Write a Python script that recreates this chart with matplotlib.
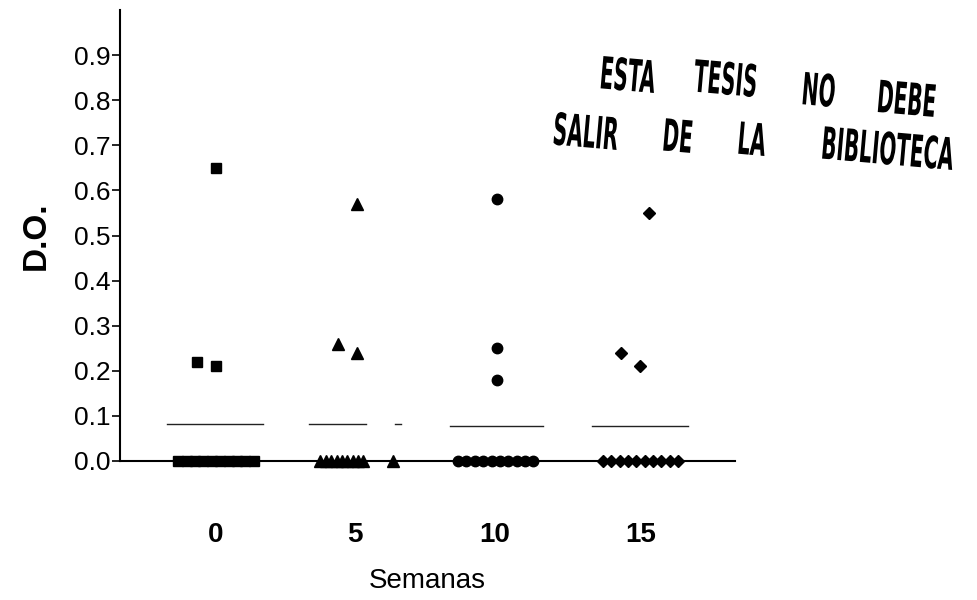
import matplotlib
matplotlib.use('Agg')
import matplotlib.pyplot as plt
import matplotlib.patheffects as pe
from matplotlib.transforms import Affine2D
import numpy as np

# Datos: D.O. por semana de muestreo
semanas = ['0', '5', '10', '15']
do_sem0 = [0.65, 0.22, 0.21, 0, 0, 0, 0, 0, 0, 0, 0, 0, 0]
do_sem5 = [0.57, 0.26, 0.24, 0, 0, 0, 0, 0, 0, 0, 0, 0, 0]
do_sem10 = [0.58, 0.25, 0.18, 0, 0, 0, 0, 0, 0, 0, 0, 0, 0]
do_sem15 = [0.55, 0.24, 0.21, 0, 0, 0, 0, 0, 0, 0, 0, 0, 0]

# Posicion de cada columna y desplazamiento horizontal de los puntos
col_x = [0, 1, 2, 3.05]
desp = [
    [0, -0.14, 0] + list(np.linspace(-0.27, 0.27, 10)),
    [0.01, -0.12, 0.01] + list(np.linspace(-0.25, 0.06, 9)) + [0.27],
    [0.02, 0.02, 0.02] + list(np.linspace(-0.26, 0.28, 10)),
    [0.06, -0.14, 0] + list(np.linspace(-0.27, 0.27, 10)),
]
# tramos de la linea de la media
tramos = [
    [(-0.35, 0.34)],
    [(-0.33, 0.08), (0.29, 0.33)],
    [(-0.32, 0.35)],
    [(-0.35, 0.34)],
]
marcadores = [('s', 7), ('^', 8), ('o', 7.5), ('D', 6.5)]


class Estirar(pe.AbstractPathEffect):
    # estira el texto en vertical desde la linea base
    def __init__(self, sy):
        super().__init__()
        self.sy = sy

    def draw_path(self, renderer, gc, tpath, affine, rgbFace=None):
        renderer.draw_path(gc, tpath, Affine2D().scale(1, self.sy) + affine, rgbFace)


plt.rcParams['font.family'] = ['Liberation Sans', 'DejaVu Sans']

fig = plt.figure(figsize=(9.78, 6), dpi=100)
ax = fig.add_axes([120 / 978, 139 / 600, 615 / 978, 451 / 600])

datos = [do_sem0, do_sem5, do_sem10, do_sem15]
for i, valores in enumerate(datos):
    xs = col_x[i] + np.array(desp[i])
    m, ms = marcadores[i]
    ax.plot(xs, valores, linestyle='none', marker=m, markersize=ms,
            color='black', clip_on=False, zorder=3)
    media = np.mean(valores)
    for a, b in tramos[i]:
        ax.plot([col_x[i] + a, col_x[i] + b], [media, media],
                color='#222222', linewidth=1.0, zorder=2)

ax.set_xlim(-0.69, 3.73)
ax.set_ylim(0, 1.0)

for lado in ['top', 'right']:
    ax.spines[lado].set_visible(False)
for lado in ['left', 'bottom']:
    ax.spines[lado].set_linewidth(1.5)

ax.set_yticks(np.arange(0, 1.0, 0.1))
ax.set_yticklabels([f'{v:.1f}' for v in np.arange(0, 1.0, 0.1)])
ax.tick_params(axis='y', direction='out', length=6, width=1.2, labelsize=19, pad=1)

ax.set_xticks(col_x)
ax.set_xticklabels(semanas, fontweight='bold')
ax.tick_params(axis='x', length=0, labelsize=20, pad=44)

ax.set_xlabel('Semanas', fontsize=20, labelpad=14)
ax.set_ylabel('D.O.', fontsize=24, fontweight='bold', labelpad=16)

# sello de la biblioteca
sello = [
    ('ESTA', 627, 93), ('TESIS', 725, 97), ('NO', 818, 107), ('DEBE', 906, 117),
    ('SALIR', 585, 150), ('DE', 677, 153), ('LA', 751, 156), ('BIBLIOTECA', 887, 170),
]
for palabra, px, py in sello:
    fig.text(px / 978, 1 - py / 600, palabra, ha='center', va='baseline',
             rotation=-5, fontsize=16, fontweight='bold',
             fontfamily='DejaVu Sans', fontstretch='condensed', color='black',
             path_effects=[Estirar(2.0)])

fig.savefig('out.png', dpi=100)
